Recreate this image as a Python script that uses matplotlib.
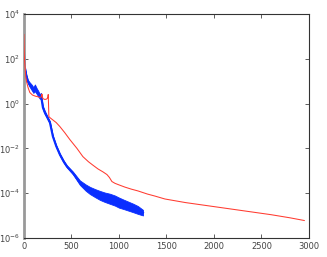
import numpy as np
import matplotlib.pyplot as plt

# red curve (iteration, log10 value)
red_x = [0, 2, 5, 10, 20, 30, 45, 63, 90, 120, 150, 168, 185, 190, 195, 200, 221, 240,
         253, 256, 258, 263, 274, 295, 340, 379, 430, 484, 558, 621, 680, 726, 780, 832,
         874, 900, 926, 958, 1000, 1063, 1130, 1200, 1300, 1379, 1484, 1700, 2000, 2300,
         2600, 2800, 2950]
red_log = [3.08, 2.6, 2.1, 1.74, 1.2, 0.94, 0.7, 0.49, 0.38, 0.33, 0.3, 0.27, 0.3, 0.42,
           0.3, 0.22, 0.18, 0.2, 0.27, 0.4, 0.18, -0.58, -0.63, -0.7, -0.85, -1.03, -1.3,
           -1.61, -2.0, -2.37, -2.6, -2.75, -2.92, -3.05, -3.17, -3.3, -3.48, -3.56, -3.63,
           -3.73, -3.82, -3.9, -4.04, -4.13, -4.26, -4.42, -4.6, -4.78, -4.96, -5.1, -5.22]

# blue curve: centre and noise band (iteration, log10 value)
blue_x = [0, 5, 10, 25, 42, 60, 84, 100, 116, 137, 150, 168, 180, 190, 200, 220, 242,
          274, 305, 340, 379, 420, 453, 516, 589, 650, 695, 750, 800, 850, 905, 958,
          1000, 1050, 1100, 1150, 1200, 1253]
blue_log = [2.41, 2.0, 1.61, 1.25, 0.98, 0.85, 0.71, 0.6, 0.7, 0.54, 0.45, 0.31, 0.35,
            0.09, -0.18, -0.4, -0.58, -0.85, -1.47, -1.9, -2.28, -2.6, -2.81, -3.1,
            -3.53, -3.75, -3.88, -4.0, -4.1, -4.18, -4.25, -4.33, -4.42, -4.5, -4.58,
            -4.66, -4.75, -4.87]
blue_spread = [0.05, 0.08, 0.1, 0.12, 0.15, 0.2, 0.25, 0.25, 0.3, 0.25, 0.25, 0.2, 0.25,
               0.2, 0.15, 0.15, 0.12, 0.12, 0.1, 0.1, 0.1, 0.1, 0.1, 0.12, 0.2, 0.28,
               0.32, 0.36, 0.4, 0.42, 0.45, 0.45, 0.45, 0.42, 0.4, 0.38, 0.35, 0.25]

x_ticks = [0, 500, 1000, 1500, 2000, 2500, 3000]
y_ticks = [1e4, 1e2, 1e0, 1e-2, 1e-4, 1e-6]

blue_c = np.array(blue_log)
blue_s = np.array(blue_spread)

fig = plt.figure(figsize=(3.27, 2.57), dpi=100)
ax = fig.add_axes([0.073, 0.074, 0.872, 0.872])

ax.fill_between(blue_x, 10 ** (blue_c - blue_s / 2), 10 ** (blue_c + blue_s / 2),
                color='#0a2eff', lw=0.6, edgecolor='#0a2eff', zorder=2)
ax.plot(blue_x, 10 ** blue_c, color='#0a2eff', lw=1.5, zorder=2)
ax.plot(red_x, 10 ** np.array(red_log), color='#ff3b30', lw=0.75, zorder=3)

ax.set_yscale('log')
ax.set_xlim(0, 3000)
ax.set_ylim(1e-6, 1e4)
ax.set_xticks(x_ticks)
ax.set_yticks(y_ticks)
ax.yaxis.set_minor_locator(plt.NullLocator())
ax.tick_params(direction='in', top=True, right=True, length=3, width=0.6,
               labelsize=6, colors='#444444', pad=3)
for s in ax.spines.values():
    s.set_color('#333333')
    s.set_linewidth(0.8)
ax.spines['left'].set_color('#999999')
ax.spines['left'].set_linewidth(2)

fig.savefig('out.png', dpi=100)
